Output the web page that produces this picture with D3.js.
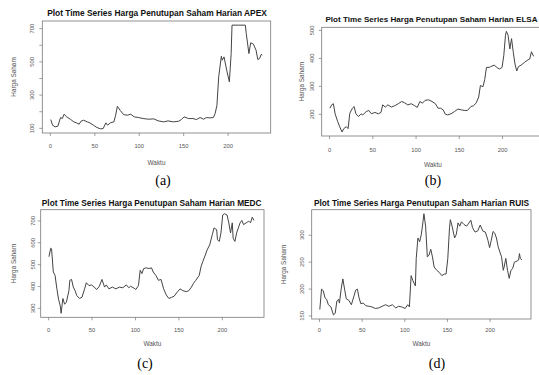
<!DOCTYPE html>
<html>
<head>
<meta charset="utf-8">
<script src="https://cdn.jsdelivr.net/npm/d3@7/dist/d3.min.js"></script>
<style>
  body { margin: 0; background: #fff; }
  svg { display: block; }
</style>
</head>
<body>
<svg id="gambar" width="539" height="375"></svg>
<script>
// Data (hari ke-, harga penutupan)
const jumlahHari = 239;
const tickWaktu = [0, 50, 100, 150, 200];

const apexWaktu = [1,3,6,9,12,14,16,19,23,27,30,33,35,38,42,45,49,53,57,60,63,65,68,72,74,76,79,83,87,91,95,100,105,111,117,122,128,133,139,145,148,151,156,161,165,169,173,176,180,184,186,188,190,193,194,196,199,202,204,205,212,220,221,224,226,229,232,234,236,238,239];
const apexHarga = [150,116,106,110,162,156,182,166,152,136,130,122,140,146,136,130,116,102,94,96,130,116,130,136,176,230,206,180,176,182,166,162,156,152,154,142,136,142,136,140,150,166,156,156,150,162,152,162,160,162,186,236,407,531,507,527,447,377,547,718,718,718,668,547,612,604,568,511,517,543,537];
const apexTick = [100,200,300,400,500,600,700];
const apexLabel = [100,300,500,700];

const elsaWaktu = [1,3,5,7,10,12,15,17,20,22,24,27,29,31,34,37,39,43,46,49,53,57,60,62,65,68,72,76,80,84,87,91,95,99,102,105,108,111,115,119,123,126,129,132,134,137,141,145,149,153,157,160,164,167,170,173,175,178,180,182,185,187,191,194,197,200,202,204,205,207,209,211,213,215,217,219,222,226,230,232,234,236,237];
const elsaHarga = [220,232,236,200,172,156,135,147,154,147,202,220,226,200,190,200,196,208,212,200,205,200,205,232,224,232,224,229,236,244,240,232,236,229,223,244,238,248,250,244,236,220,220,214,200,196,200,208,217,214,212,212,226,229,238,260,301,297,323,366,366,369,374,366,360,366,408,481,495,481,432,469,420,378,353,369,374,384,393,396,422,408,406];
const elsaTick = [200,300,400,500];
const elsaLabel = [200,300,400,500];

const medcWaktu = [1,3,4,6,8,10,12,14,15,17,19,21,24,25,27,29,31,33,36,39,42,44,47,50,53,56,59,62,65,67,70,74,78,82,86,90,93,95,99,101,104,106,108,110,113,116,119,121,124,127,130,133,136,139,142,145,149,152,155,159,162,165,167,170,174,176,178,181,183,186,189,191,194,195,197,199,201,203,206,208,210,212,213,215,217,219,221,223,225,228,231,233,235,237];
const medcHarga = [534,573,570,464,449,390,340,309,275,343,317,325,379,426,430,395,379,356,343,348,387,415,402,405,395,384,399,430,395,405,387,395,387,395,392,405,392,399,390,384,402,472,457,480,483,480,483,464,449,426,430,387,359,343,348,353,374,387,379,374,379,395,410,426,449,488,511,542,565,588,635,666,658,612,604,643,725,731,725,689,643,689,619,604,643,666,689,700,681,689,697,689,715,700];
const medcTick = [300,400,500,600,700];
const medcLabel = [300,400,500,600,700];

const ruisWaktu = [1,3,5,7,9,11,14,17,19,21,23,24,26,28,30,32,35,38,41,43,45,47,49,52,55,59,62,66,70,74,78,82,86,90,93,97,101,104,106,108,110,113,114,116,118,120,122,123,125,127,129,131,133,135,138,141,144,147,149,151,153,154,156,159,161,163,165,167,170,173,175,178,180,183,186,189,192,195,198,200,202,204,206,208,210,212,214,216,217,219,221,223,225,227,229,232,234,235,236,238];
const ruisHarga = [161,199,196,183,180,170,166,151,154,177,180,173,199,218,199,181,178,170,186,197,199,183,172,173,168,167,166,163,164,167,170,167,170,164,167,166,163,170,166,224,215,205,256,294,287,301,325,339,316,259,262,273,259,240,234,230,224,227,227,256,313,328,316,294,301,322,316,324,319,316,320,327,313,305,307,318,307,305,290,276,290,306,303,294,278,268,259,234,240,256,234,219,234,237,249,251,253,265,256,253];
const ruisTick = [150,200,250,300];
const ruisLabel = [150,200,250,300];

// Tata letak tiap panel (posisi kotak plot dan teks)
const panel = [
  { kode: "APEX", huruf: "(a)", waktu: apexWaktu, harga: apexHarga, tick: apexTick, label: apexLabel,
    x0: 42.3, x1: 270.7, y0: 21, y1: 133, judulX: 157, judulY: 13.3, tickY: 145.7, waktuY: 163,
    tickX: 31.7, judulYX: 13.3, hurufX: 163, hurufY: 180, fs: 8.4 },
  { kode: "ELSA", huruf: "(b)", waktu: elsaWaktu, harga: elsaHarga, tick: elsaTick, label: elsaLabel,
    x0: 321.7, x1: 544, y0: 27.3, y1: 136, judulX: 431.5, judulY: 19.3, tickY: 150, waktuY: 165,
    tickX: 311.7, judulYX: 301.7, hurufX: 433, hurufY: 180, fs: 8.1 },
  { kode: "MEDC", huruf: "(c)", waktu: medcWaktu, harga: medcHarga, tick: medcTick, label: medcLabel,
    x0: 40.7, x1: 264, y0: 209.7, y1: 317.3, judulX: 151.7, judulY: 203, tickY: 329.7, waktuY: 343.7,
    tickX: 33.3, judulYX: 13.3, hurufX: 145, hurufY: 363, fs: 8.3 },
  { kode: "RUIS", huruf: "(d)", waktu: ruisWaktu, harga: ruisHarga, tick: ruisTick, label: ruisLabel,
    x0: 311.7, x1: 531, y0: 209.7, y1: 319, judulX: 421.5, judulY: 203, tickY: 329.7, waktuY: 343.7,
    tickX: 301.7, judulYX: 283.3, hurufX: 437, hurufY: 363, fs: 8.3 }
];

const svg = d3.select("#gambar");
const warnaAbu = "#555";

// Perluasan 4% seperti plot R
function rentang(lo, hi) {
  const r = hi - lo;
  return [lo - 0.04 * r, hi + 0.04 * r];
}

panel.forEach(function (p) {
  const g = svg.append("g");

  const x = d3.scaleLinear().domain(rentang(1, jumlahHari)).range([p.x0, p.x1]);
  const y = d3.scaleLinear().domain(rentang(d3.min(p.harga), d3.max(p.harga))).range([p.y1, p.y0]);

  // Garis deret waktu
  const garis = d3.line()
    .x(function (d, i) { return x(p.waktu[i]); })
    .y(function (d) { return y(d); });
  g.append("path")
    .datum(p.harga)
    .attr("d", garis)
    .attr("fill", "none")
    .attr("stroke", "#444")
    .attr("stroke-width", 1)
    .attr("stroke-linejoin", "round");

  // Kotak plot
  g.append("rect")
    .attr("x", p.x0).attr("y", p.y0)
    .attr("width", p.x1 - p.x0).attr("height", p.y1 - p.y0)
    .attr("fill", "none")
    .attr("stroke", "#777")
    .attr("stroke-width", 0.8);

  // Sumbu x
  const sumbuX = g.append("g")
    .attr("transform", "translate(0," + p.y1 + ")")
    .call(d3.axisBottom(x).tickValues(tickWaktu).tickSize(3).tickSizeOuter(0).tickPadding(0));
  sumbuX.select(".domain").remove();
  sumbuX.selectAll("line").attr("stroke", "#777").attr("stroke-width", 0.7);
  sumbuX.selectAll("text")
    .attr("y", p.tickY - p.y1)
    .attr("dy", "0.35em")
    .attr("fill", warnaAbu)
    .style("font", "5.8px 'Liberation Sans', Arial, sans-serif");

  // Sumbu y (label tegak seperti R)
  const sumbuY = g.append("g")
    .attr("transform", "translate(" + p.x0 + ",0)")
    .call(d3.axisLeft(y).tickValues(p.tick).tickSize(3).tickSizeOuter(0)
      .tickFormat(function (d) { return p.label.indexOf(d) >= 0 ? d : ""; }));
  sumbuY.select(".domain").remove();
  sumbuY.selectAll("line").attr("stroke", "#777").attr("stroke-width", 0.7);
  sumbuY.selectAll("text")
    .attr("x", 0)
    .attr("dy", "0.35em")
    .attr("text-anchor", "middle")
    .attr("transform", "translate(" + (p.tickX - p.x0) + ",0) rotate(-90)")
    .attr("fill", warnaAbu)
    .style("font", "5.8px 'Liberation Sans', Arial, sans-serif");

  // Judul
  g.append("text")
    .attr("x", p.judulX)
    .attr("y", p.judulY)
    .attr("dy", "0.35em")
    .attr("text-anchor", "middle")
    .style("font", "bold " + p.fs + "px 'Liberation Sans', Arial, sans-serif")
    .attr("fill", "#111")
    .text("Plot Time Series Harga Penutupan Saham Harian " + p.kode);

  // Judul sumbu
  g.append("text")
    .attr("x", (p.x0 + p.x1) / 2)
    .attr("y", p.waktuY)
    .attr("dy", "0.35em")
    .attr("text-anchor", "middle")
    .attr("fill", warnaAbu)
    .style("font", "6.4px 'Liberation Sans', Arial, sans-serif")
    .text("Waktu");

  g.append("text")
    .attr("transform", "translate(" + p.judulYX + "," + (p.y0 + p.y1) / 2 + ") rotate(-90)")
    .attr("dy", "0.35em")
    .attr("text-anchor", "middle")
    .attr("fill", warnaAbu)
    .style("font", "6.4px 'Liberation Sans', Arial, sans-serif")
    .text("Harga Saham");

  // Keterangan panel
  g.append("text")
    .attr("x", p.hurufX)
    .attr("y", p.hurufY)
    .attr("dy", "0.35em")
    .attr("text-anchor", "middle")
    .attr("fill", "#000")
    .style("font", "14px 'Liberation Serif', 'Times New Roman', serif")
    .text(p.huruf);
});
</script>
</body>
</html>
